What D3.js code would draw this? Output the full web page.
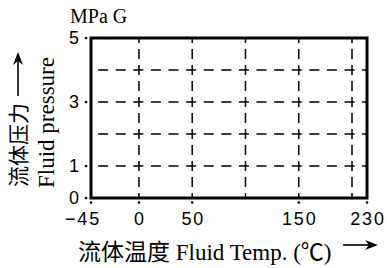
<!DOCTYPE html>
<html>
<head>
<meta charset="utf-8">
<script src="https://cdn.jsdelivr.net/npm/d3@7"></script>
<style>
  body { margin: 0; background: #fff; }
  svg { display: block; }
</style>
</head>
<body>
<svg id="chart" width="387" height="268"></svg>
<script>
// temperature axis is squeezed after 200 (230 sits on the right edge)
const tempDomain = [-45, 200, 230];
const tempTicks = [-45, 0, 50, 150, 230];
const tempGrid = [0, 50, 100, 150, 200];

const pressDomain = [0, 5];
const pressTicks = [0, 1, 3, 5];
const pressGrid = [1, 2, 3, 4];

const margin = {left: 91, right: 20, top: 38, bottom: 70};
const width = 387 - margin.left - margin.right;
const height = 268 - margin.top - margin.bottom;

const svg = d3.select('#chart');
const serif = '"Liberation Serif", "Times New Roman", "Noto Sans CJK SC", serif';
const sans = '"Liberation Sans", Arial, sans-serif';

const x = d3.scaleLinear()
    .domain(tempDomain)
    .range([0, width * 261 / 276, width]);

const y = d3.scaleLinear()
    .domain(pressDomain)
    .range([height, 0]);

const chart = svg.append('g')
    .attr('transform', `translate(${margin.left},${margin.top})`);

// dashed grid
chart.append('g')
    .selectAll('line')
    .data(tempGrid)
    .enter().append('line')
    .attr('x1', d => x(d)).attr('x2', d => x(d))
    .attr('y1', 0).attr('y2', height)
    .attr('stroke', '#000')
    .attr('stroke-width', 1.5)
    .attr('stroke-dasharray', '10 6')
    .attr('stroke-dashoffset', 5);

chart.append('g')
    .selectAll('line')
    .data(pressGrid)
    .enter().append('line')
    .attr('x1', 0).attr('x2', width)
    .attr('y1', d => y(d)).attr('y2', d => y(d))
    .attr('stroke', '#000')
    .attr('stroke-width', 1.5)
    .attr('stroke-dasharray', '10 7.6')
    .attr('stroke-dashoffset', 10.5);

// frame
chart.append('rect')
    .attr('x', 0).attr('y', 0)
    .attr('width', width).attr('height', height)
    .attr('fill', 'none')
    .attr('stroke', '#000')
    .attr('stroke-width', 3);

// y ticks: label + small dot
const yt = chart.append('g').selectAll('g')
    .data(pressTicks)
    .enter().append('g')
    .attr('transform', d => `translate(0,${y(d)})`);

yt.append('circle')
    .attr('cx', -5).attr('cy', 0).attr('r', 1.3)
    .attr('fill', '#000');

yt.append('text')
    .attr('x', -12)
    .attr('dy', '0.36em')
    .attr('text-anchor', 'end')
    .style('font-family', sans)
    .style('font-size', '18px')
    .text(d => d);

// x ticks
const xt = chart.append('g').selectAll('g')
    .data(tempTicks)
    .enter().append('g')
    .attr('transform', d => `translate(${x(d)},${height})`);

xt.append('circle')
    .attr('cx', 0).attr('cy', 4.5).attr('r', 1.3)
    .attr('fill', '#000');

xt.append('text')
    .attr('y', 26.5)
    .attr('dx', d => d < 0 ? -8 : 1)
    .attr('text-anchor', 'middle')
    .style('font-family', sans)
    .style('font-size', '18px')
    .style('letter-spacing', '1.8px')
    .text(d => d < 0 ? '\u2212' + Math.abs(d) : d);

// unit
svg.append('text')
    .attr('x', 70).attr('y', 23)
    .style('font-family', serif)
    .style('font-size', '20px')
    .text('MPa G');

// x title + arrow
svg.append('text')
    .attr('x', 78).attr('y', 260)
    .style('font-family', serif)
    .style('font-size', '23px')
    .text('流体温度 Fluid Temp. (℃)');

svg.append('line')
    .attr('x1', 343).attr('x2', 372)
    .attr('y1', 245).attr('y2', 245)
    .attr('stroke', '#000').attr('stroke-width', 1.6);
svg.append('path')
    .attr('d', 'M378,245 L365,240 L369,245 L365,250 Z')
    .attr('fill', '#000');

// y titles + arrow
svg.append('text')
    .attr('transform', 'translate(26,187) rotate(-90)')
    .style('font-family', serif)
    .style('font-size', '21px')
    .text('流体压力');

svg.append('line')
    .attr('x1', 18).attr('x2', 18)
    .attr('y1', 96).attr('y2', 58)
    .attr('stroke', '#000').attr('stroke-width', 1.6);
svg.append('path')
    .attr('d', 'M18,52 L13,65 L18,61 L23,65 Z')
    .attr('fill', '#000');

svg.append('text')
    .attr('transform', 'translate(54,188) rotate(-90)')
    .style('font-family', serif)
    .style('font-size', '23px')
    .text('Fluid pressure');
</script>
</body>
</html>
